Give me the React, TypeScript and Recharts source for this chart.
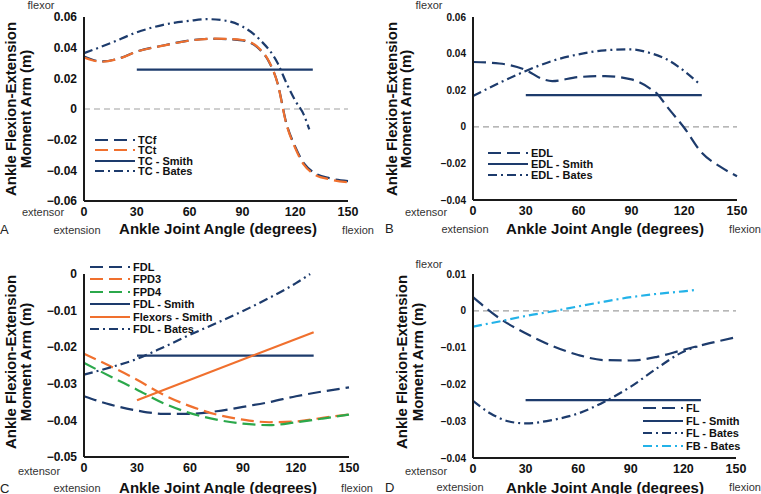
import React from 'react';
import { LineChart, Line, XAxis, YAxis, ReferenceLine, Legend } from 'recharts';

const NAVY = '#1d3b6c';
const ORANGE = '#f0702e';
const GREEN = '#2ba84b';
const SKY = '#23b2e8';

const DASH = '13 6';
const DASH_DOT = '9 4 2 4';

const angleTicks = [0, 30, 60, 90, 120, 150];
const smithAngles = [30, 130];
const angles15 = [0, 15, 30, 45, 60, 75, 90, 105, 120, 135, 150];

// A - triceps surae
const tcAngles = [0, 10, 20, 30, 45, 60, 75, 90, 100, 105, 110, 115, 120, 125, 130, 140, 150];
const tcF = [0.0342, 0.031, 0.033, 0.0375, 0.0414, 0.0447, 0.0458, 0.0447, 0.0386, 0.031, 0.0168, -0.0094, -0.0246, -0.0355, -0.041, -0.0453, -0.047];
const tcT = [0.0336, 0.0308, 0.0329, 0.0374, 0.0413, 0.0446, 0.0459, 0.045, 0.039, 0.0313, 0.0166, -0.0099, -0.0254, -0.0365, -0.042, -0.046, -0.0478];
const tcSmith = [0.0257, 0.0257];
const tcBatesAngles = [0, 15, 30, 45, 60, 70, 80, 90, 100, 110, 115, 120, 125, 128];
const tcBates = [0.0364, 0.0429, 0.05, 0.0549, 0.0575, 0.0586, 0.0577, 0.0538, 0.0451, 0.03, 0.017, 0.0055, -0.004, -0.0133];

// B - extensor digitorum longus
const edlAngles = [0, 15, 30, 40, 45, 60, 75, 90, 100, 105, 110, 120, 130, 140, 150];
const edl = [0.0354, 0.0346, 0.031, 0.0259, 0.025, 0.0272, 0.0277, 0.0259, 0.0213, 0.0177, 0.0113, -0.0005, -0.0142, -0.0215, -0.027];
const edlSmith = [0.0173, 0.0173];
const edlBatesAngles = [0, 15, 30, 45, 60, 75, 90, 100, 110, 120, 128];
const edlBates = [0.0168, 0.024, 0.0305, 0.036, 0.0396, 0.0418, 0.0423, 0.0405, 0.0369, 0.0305, 0.024];

// C - digital flexors
const fdl = [-0.0334, -0.0357, -0.0373, -0.0382, -0.0382, -0.0375, -0.0363, -0.035, -0.0334, -0.0321, -0.031];
const fpd3 = [-0.0218, -0.0252, -0.0289, -0.033, -0.0361, -0.0384, -0.0398, -0.0405, -0.0403, -0.0393, -0.0384];
const fpd4 = [-0.0243, -0.028, -0.0316, -0.0353, -0.038, -0.0398, -0.0409, -0.0413, -0.0405, -0.0395, -0.0384];
const fdlSmith = [-0.0223, -0.0223];
const flexorsSmith = [-0.0345, -0.0159];
const fdlBatesAngles = [0, 15, 30, 45, 60, 75, 90, 105, 120, 128];
const fdlBates = [-0.0275, -0.0255, -0.0232, -0.02, -0.0166, -0.0134, -0.0101, -0.0065, -0.0025, 0.0];

// D - fibularis
const fl = [0.0037, -0.002, -0.0061, -0.0095, -0.012, -0.0134, -0.0135, -0.0125, -0.0106, -0.0088, -0.0072];
const flSmith = [-0.0243, -0.0243];
const flBatesAngles = [0, 10, 20, 30, 45, 60, 75, 90, 105, 120, 128];
const flBates = [-0.0245, -0.0279, -0.03, -0.0306, -0.0297, -0.0279, -0.0247, -0.0206, -0.0156, -0.0111, -0.0097];
const fbBatesAngles = [0, 15, 30, 45, 60, 75, 90, 105, 120, 128];
const fbBates = [-0.0043, -0.0029, -0.0014, -0.0002, 0.0012, 0.0025, 0.0037, 0.0046, 0.0053, 0.0057];

const pts = (xs: number[], ys: number[]) => xs.map((x, i) => ({ x, y: ys[i] }));

interface Series {
  name: string;
  data: { x: number; y: number }[];
  color: string;
  dash?: string;
  linear?: boolean;
}

interface PanelProps {
  left: number;
  top: number;
  width: number;
  height: number;
  margin: { top: number; right: number; left: number; bottom: number };
  yDomain: [number, number];
  yTicks: number[];
  yTickSize: number;
  series: Series[];
  legend: { x: number; y: number; row: number };
  zeroLine?: boolean;
}

const FONT = '"Liberation Sans", Arial, sans-serif';

const fmt = (v: number) => (v === 0 ? '0' : (v < 0 ? '\u2212' : '') + Math.abs(v).toFixed(2));

const Panel: React.FC<PanelProps> = ({ left, top, width, height, margin, yDomain, yTicks, yTickSize, series, legend, zeroLine = true }) => {
  const renderLegend = () => (
    <div style={{ fontFamily: FONT, fontSize: 11, fontWeight: 700, color: '#111' }}>
      {series.map((s) => (
        <div key={s.name} style={{ display: 'flex', alignItems: 'center', height: legend.row, whiteSpace: 'nowrap' }}>
          <svg width={40} height={4} style={{ display: 'block' }}>
            <line x1={0} y1={2} x2={40} y2={2} stroke={s.color} strokeWidth={2.2} strokeDasharray={s.dash} />
          </svg>
          <span style={{ marginLeft: 3 }}>{s.name}</span>
        </div>
      ))}
    </div>
  );

  return (
    <div style={{ position: 'absolute', left, top }}>
      <LineChart width={width} height={height} margin={margin}>
        <XAxis
          type="number"
          dataKey="x"
          domain={[0, 150]}
          ticks={angleTicks}
          height={30}
          tickLine={false}
          tickSize={4}
          tickMargin={2}
          axisLine={{ stroke: '#1a1a1a', strokeWidth: 2 }}
          tick={{ fontSize: 12.5, fontWeight: 700, fill: '#111', fontFamily: FONT }}
        />
        <YAxis
          type="number"
          domain={yDomain}
          ticks={yTicks}
          width={60}
          tickLine={false}
          tickSize={5}
          tickMargin={2}
          tickFormatter={fmt}
          axisLine={{ stroke: '#1a1a1a', strokeWidth: 2 }}
          tick={{ fontSize: yTickSize, fontWeight: 700, fill: '#111', fontFamily: FONT }}
        />
        {zeroLine && <ReferenceLine y={0} stroke="#a0a0a0" strokeDasharray="6 4" strokeWidth={1.2} />}
        {series.map((s) => (
          <Line
            key={s.name}
            data={s.data}
            dataKey="y"
            type={s.linear ? 'linear' : 'monotone'}
            stroke={s.color}
            strokeWidth={2.2}
            strokeDasharray={s.dash}
            dot={false}
            activeDot={false}
            isAnimationActive={false}
          />
        ))}
        <Legend
          layout="vertical"
          align="center"
          verticalAlign="middle"
          content={renderLegend}
          wrapperStyle={{ left: legend.x - left, top: legend.y - top, width: 'auto' }}
        />
      </LineChart>
    </div>
  );
};

const seriesA: Series[] = [
  { name: 'TCf', data: pts(tcAngles, tcF), color: NAVY, dash: DASH },
  { name: 'TCt', data: pts(tcAngles, tcT), color: ORANGE, dash: DASH },
  { name: 'TC - Smith', data: pts(smithAngles, tcSmith), color: NAVY, linear: true },
  { name: 'TC - Bates', data: pts(tcBatesAngles, tcBates), color: NAVY, dash: DASH_DOT },
];

const seriesB: Series[] = [
  { name: 'EDL', data: pts(edlAngles, edl), color: NAVY, dash: DASH },
  { name: 'EDL - Smith', data: pts(smithAngles, edlSmith), color: NAVY, linear: true },
  { name: 'EDL - Bates', data: pts(edlBatesAngles, edlBates), color: NAVY, dash: DASH_DOT },
];

const seriesC: Series[] = [
  { name: 'FDL', data: pts(angles15, fdl), color: NAVY, dash: DASH },
  { name: 'FPD3', data: pts(angles15, fpd3), color: ORANGE, dash: DASH },
  { name: 'FPD4', data: pts(angles15, fpd4), color: GREEN, dash: DASH },
  { name: 'FDL - Smith', data: pts(smithAngles, fdlSmith), color: NAVY, linear: true },
  { name: 'Flexors - Smith', data: pts(smithAngles, flexorsSmith), color: ORANGE, linear: true },
  { name: 'FDL - Bates', data: pts(fdlBatesAngles, fdlBates), color: NAVY, dash: DASH_DOT },
];

const seriesD: Series[] = [
  { name: 'FL', data: pts(angles15, fl), color: NAVY, dash: DASH },
  { name: 'FL - Smith', data: pts(smithAngles, flSmith), color: NAVY, linear: true },
  { name: 'FL - Bates', data: pts(flBatesAngles, flBates), color: NAVY, dash: DASH_DOT },
  { name: 'FB - Bates', data: pts(fbBatesAngles, fbBates), color: SKY, dash: DASH_DOT },
];

const small = { fontFamily: FONT, fontSize: 11, fill: '#333' };
const title = { fontFamily: FONT, fontSize: 15, fontWeight: 700, fill: '#111' };

const Labels: React.FC<{ yt: [number, number, number, number]; xt: [number, number]; ext: [number, number]; flex: [number, number]; extor: [number, number]; flexor?: [number, number]; letter: string; lp: [number, number] }> = ({ yt, xt, ext, flex, extor, flexor, letter, lp }) => (
  <g>
    <text x={yt[0]} y={yt[2]} transform={`rotate(-90 ${yt[0]} ${yt[2]})`} textAnchor="middle" dominantBaseline="central" style={title}>Ankle Flexion-Extension</text>
    <text x={yt[1]} y={yt[3]} transform={`rotate(-90 ${yt[1]} ${yt[3]})`} textAnchor="middle" dominantBaseline="central" style={title}>Moment Arm (m)</text>
    <text x={xt[0]} y={xt[1]} textAnchor="middle" dominantBaseline="central" style={title}>Ankle Joint Angle (degrees)</text>
    <text x={ext[0]} y={ext[1]} textAnchor="middle" dominantBaseline="central" style={small}>extension</text>
    <text x={flex[0]} y={flex[1]} textAnchor="middle" dominantBaseline="central" style={small}>flexion</text>
    <text x={extor[0]} y={extor[1]} textAnchor="middle" dominantBaseline="central" style={small}>extensor</text>
    {flexor && <text x={flexor[0]} y={flexor[1]} textAnchor="middle" dominantBaseline="central" style={small}>flexor</text>}
    <text x={lp[0]} y={lp[1]} dominantBaseline="central" style={{ fontFamily: FONT, fontSize: 13, fill: '#222' }}>{letter}</text>
  </g>
);

export default function App() {
  return (
    <div style={{ position: 'absolute', left: 0, top: 0, width: 761, height: 494, background: '#fff', overflow: 'hidden' }}>
      <Panel
        left={0} top={0} width={380} height={240}
        margin={{ top: 17, right: 32, left: 24, bottom: 9 }}
        yDomain={[-0.06, 0.06]} yTicks={[-0.06, -0.04, -0.02, 0, 0.02, 0.04, 0.06]} yTickSize={12}
        series={seriesA} legend={{ x: 95, y: 134.5, row: 10.5 }}
      />
      <Panel
        left={380} top={0} width={381} height={240}
        margin={{ top: 17, right: 24, left: 33, bottom: 10 }}
        yDomain={[-0.04, 0.06]} yTicks={[-0.04, -0.02, 0, 0.02, 0.04, 0.06]} yTickSize={10}
        series={seriesB} legend={{ x: 488, y: 147.5, row: 11 }}
      />
      <Panel
        left={0} top={240} width={380} height={254}
        margin={{ top: 34, right: 31, left: 24, bottom: 7 }}
        yDomain={[-0.05, 0]} yTicks={[-0.05, -0.04, -0.03, -0.02, -0.01, 0]} yTickSize={12}
        series={seriesC} legend={{ x: 90, y: 260.8, row: 12.4 }} zeroLine={false}
      />
      <Panel
        left={380} top={240} width={381} height={254}
        margin={{ top: 34, right: 25, left: 33, bottom: 6 }}
        yDomain={[-0.04, 0.01]} yTicks={[-0.04, -0.03, -0.02, -0.01, 0, 0.01]} yTickSize={10}
        series={seriesD} legend={{ x: 643, y: 401.7, row: 12.7 }}
      />
      <svg width={761} height={494} style={{ position: 'absolute', left: 0, top: 0, pointerEvents: 'none' }}>
        <Labels yt={[10, 25, 109, 109]} xt={[218, 228]} ext={[77, 230]} flex={[358, 230]} extor={[43, 212]} flexor={[41, 5]} letter="A" lp={[0, 229]} />
        <Labels yt={[391, 405, 109, 109]} xt={[605, 228]} ext={[465, 229]} flex={[745, 229]} extor={[426, 212]} flexor={[429, 5]} letter="B" lp={[385, 228]} />
        <Labels yt={[10, 25, 362, 362]} xt={[218, 487]} ext={[77, 488]} flex={[357, 488]} extor={[39, 471]} letter="C" lp={[0, 488]} />
        <Labels yt={[401, 417, 362, 362]} xt={[605, 487]} ext={[460, 487]} flex={[745, 487]} extor={[426, 471]} flexor={[429, 264]} letter="D" lp={[385, 487]} />
      </svg>
    </div>
  );
}
